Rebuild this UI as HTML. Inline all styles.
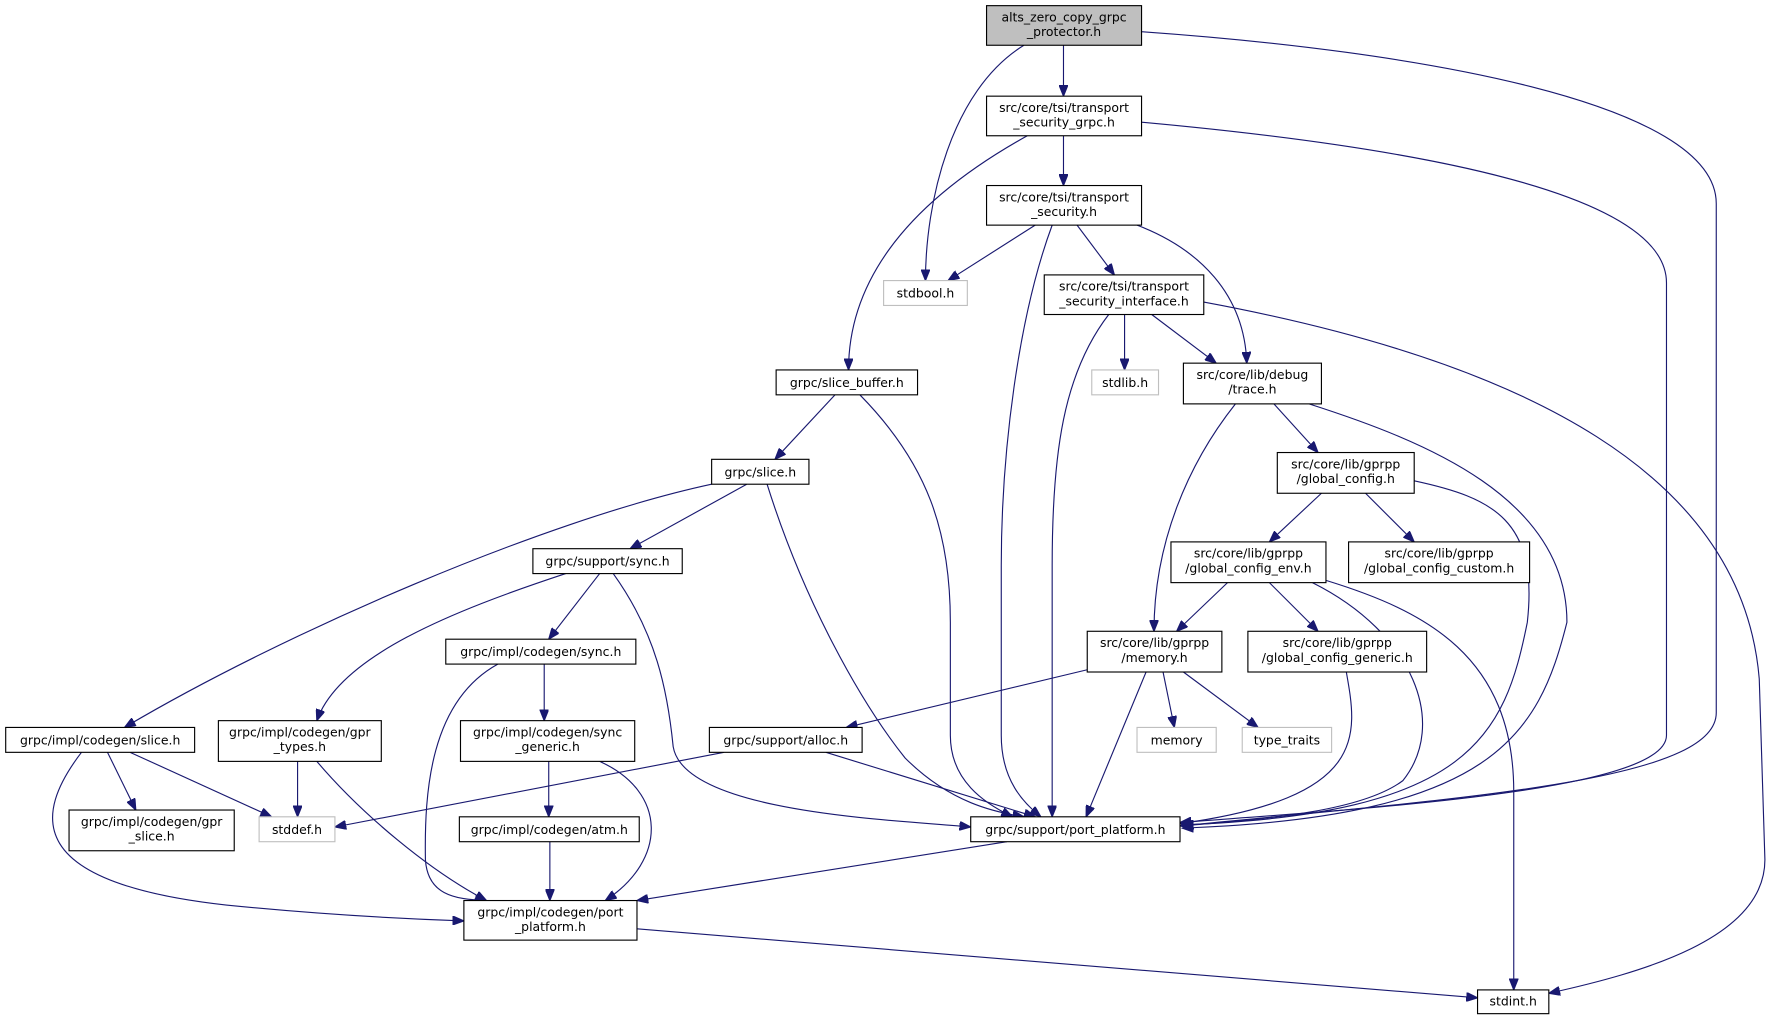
<!DOCTYPE html>
<html><head><meta charset="utf-8"><style>
html,body{margin:0;padding:0;background:#fff;}
svg{display:block;}
text{font-family:"DejaVu Sans","Liberation Sans",sans-serif;font-size:11px;fill:#000;text-anchor:middle;}
.n{fill:#fff;stroke:#000;stroke-width:1;}
.g{fill:#fff;stroke:#bfbfbf;stroke-width:1;}
.e{fill:none;stroke:#191970;stroke-width:1;marker-end:url(#a);}
</style></head><body>
<svg width="1774" height="1020" viewBox="0 0 1568 901.6" xmlns="http://www.w3.org/2000/svg">
<defs><marker id="a" markerUnits="userSpaceOnUse" markerWidth="11" markerHeight="8" refX="10" refY="4" orient="auto"><path d="M0,0 L10,4 L0,8 z" fill="#191970" stroke="#191970"/></marker></defs>
<rect width="1568" height="902" fill="#fff"/>
<g>
<path class="e" d="M940,40 L940,85"/>
<path class="e" d="M905,40 C840,80 818,180 818,248"/>
<path class="e" d="M1009,28 C1250,45 1517,90 1517,180 L1517,630 C1517,690 1300,705 1043,730"/>
<path class="e" d="M940,120 L940,164"/>
<path class="e" d="M908,120 C800,180 750,250 750,327"/>
<path class="e" d="M1009,108 C1250,130 1473,170 1473,250 L1473,650 C1473,700 1200,715 1043,727"/>
<path class="e" d="M915,199 L838,248"/>
<path class="e" d="M952,199 L985,243"/>
<path class="e" d="M1005,199 C1060,220 1100,260 1102,321"/>
<path class="e" d="M930,199 C900,280 885,400 885,500 L885,650 C885,690 905,710 920,722"/>
<path class="e" d="M994,278 L994,327"/>
<path class="e" d="M1018,278 L1075,321"/>
<path class="e" d="M980,278 C940,330 930,400 930,500 L930,722"/>
<path class="e" d="M1064,267 C1350,320 1540,420 1555,600 L1560,760 C1560,830 1450,860 1369,878"/>
<path class="e" d="M738,349 L685,406"/>
<path class="e" d="M760,349 C820,410 840,470 840,550 L840,650 C840,690 870,710 895,722"/>
<path class="e" d="M1126,357 L1165,400"/>
<path class="e" d="M1092,357 C1050,410 1020,480 1020,558"/>
<path class="e" d="M1157,357 C1260,390 1385,440 1385,550 C1360,650 1320,722 1045,732"/>
<path class="e" d="M629,428 C480,460 250,560 110,643"/>
<path class="e" d="M660,428 L557,485"/>
<path class="e" d="M678,428 C710,530 760,620 800,670 C840,710 880,718 905,722"/>
<path class="e" d="M1168,436 L1122,479"/>
<path class="e" d="M1207,436 L1250,479"/>
<path class="e" d="M1250,425 C1320,440 1360,460 1350,550 C1330,650 1300,720 1045,729"/>
<path class="e" d="M500,507 C400,540 300,580 280,637"/>
<path class="e" d="M530,507 L485,565"/>
<path class="e" d="M542,507 C580,560 590,610 595,660 C605,720 800,725 858,731"/>
<path class="e" d="M1085,515 L1040,558"/>
<path class="e" d="M1122,515 L1165,558"/>
<path class="e" d="M1160,515 C1250,560 1280,640 1240,690 C1200,720 1100,725 1045,730"/>
<path class="e" d="M1172,513 C1260,540 1338,580 1338,700 L1338,875"/>
<path class="e" d="M481,587 L481,637"/>
<path class="e" d="M440,587 C380,620 375,700 376,760 C378,790 400,795 430,796"/>
<path class="e" d="M961,592 L748,643"/>
<path class="e" d="M1013,594 L960,722"/>
<path class="e" d="M1028,594 L1038,643"/>
<path class="e" d="M1046,594 L1112,643"/>
<path class="e" d="M1190,594 C1200,650 1210,705 1043,728"/>
<path class="e" d="M95,665 L120,716"/>
<path class="e" d="M115,665 L240,722"/>
<path class="e" d="M72,665 C30,720 20,780 200,800 C300,810 380,813 410,814"/>
<path class="e" d="M263,673 L263,722"/>
<path class="e" d="M280,673 C320,720 380,770 430,796"/>
<path class="e" d="M485,673 L485,722"/>
<path class="e" d="M530,673 C590,700 590,760 535,796"/>
<path class="e" d="M640,665 L296,731"/>
<path class="e" d="M730,665 L915,722"/>
<path class="e" d="M486,744 L486,796"/>
<path class="e" d="M890,744 L563,796"/>
<path class="e" d="M563,821 L1306,882"/>
</g>
<g>
<rect x="872" y="5" width="137" height="35" fill="#bfbfbf" stroke="#000"/><text x="940.5" y="19">alts_zero_copy_grpc</text><text x="940.5" y="32">_protector.h</text>
<rect class="n" x="872" y="85" width="137" height="35"/><text x="940.5" y="99">src/core/tsi/transport</text><text x="940.5" y="112">_security_grpc.h</text>
<rect class="n" x="872" y="164" width="137" height="35"/><text x="940.5" y="178">src/core/tsi/transport</text><text x="940.5" y="191">_security.h</text>
<rect class="g" x="781" y="248" width="74" height="22"/><text x="818" y="263">stdbool.h</text>
<rect class="n" x="923" y="243" width="141" height="35"/><text x="993.5" y="257">src/core/tsi/transport</text><text x="993.5" y="270">_security_interface.h</text>
<rect class="g" x="965" y="327" width="59" height="22"/><text x="994.5" y="342">stdlib.h</text>
<rect class="n" x="1046" y="321" width="122" height="36"/><text x="1107" y="335">src/core/lib/debug</text><text x="1107" y="348">/trace.h</text>
<rect class="n" x="686" y="327" width="125" height="22"/><text x="748.5" y="342">grpc/slice_buffer.h</text>
<rect class="n" x="629" y="406" width="86" height="22"/><text x="672" y="421">grpc/slice.h</text>
<rect class="n" x="1129" y="400" width="121" height="36"/><text x="1189.5" y="414">src/core/lib/gprpp</text><text x="1189.5" y="427">/global_config.h</text>
<rect class="n" x="471" y="485" width="132" height="22"/><text x="537" y="500">grpc/support/sync.h</text>
<rect class="n" x="1035" y="479" width="137" height="36"/><text x="1103.5" y="493">src/core/lib/gprpp</text><text x="1103.5" y="506">/global_config_env.h</text>
<rect class="n" x="1192" y="479" width="160" height="36"/><text x="1272" y="493">src/core/lib/gprpp</text><text x="1272" y="506">/global_config_custom.h</text>
<rect class="n" x="394" y="565" width="168" height="22"/><text x="478" y="580">grpc/impl/codegen/sync.h</text>
<rect class="n" x="961" y="558" width="119" height="36"/><text x="1020.5" y="572">src/core/lib/gprpp</text><text x="1020.5" y="585">/memory.h</text>
<rect class="n" x="1103" y="558" width="158" height="36"/><text x="1182" y="572">src/core/lib/gprpp</text><text x="1182" y="585">/global_config_generic.h</text>
<rect class="n" x="5" y="643" width="167" height="22"/><text x="88.5" y="658">grpc/impl/codegen/slice.h</text>
<rect class="n" x="193" y="637" width="144" height="36"/><text x="265" y="651">grpc/impl/codegen/gpr</text><text x="265" y="664">_types.h</text>
<rect class="n" x="407" y="637" width="154" height="36"/><text x="484" y="651">grpc/impl/codegen/sync</text><text x="484" y="664">_generic.h</text>
<rect class="n" x="627" y="643" width="135" height="22"/><text x="694.5" y="658">grpc/support/alloc.h</text>
<rect class="g" x="1005" y="643" width="70" height="22"/><text x="1040" y="658">memory</text>
<rect class="g" x="1098" y="643" width="79" height="22"/><text x="1137.5" y="658">type_traits</text>
<rect class="n" x="61" y="716" width="146" height="36"/><text x="134" y="730">grpc/impl/codegen/gpr</text><text x="134" y="743">_slice.h</text>
<rect class="g" x="229" y="722" width="67" height="22"/><text x="262.5" y="737">stddef.h</text>
<rect class="n" x="406" y="722" width="159" height="22"/><text x="485.5" y="737">grpc/impl/codegen/atm.h</text>
<rect class="n" x="858" y="722" width="185" height="22"/><text x="950.5" y="737">grpc/support/port_platform.h</text>
<rect class="n" x="410" y="796" width="153" height="35"/><text x="486.5" y="810">grpc/impl/codegen/port</text><text x="486.5" y="823">_platform.h</text>
<rect class="n" x="1306" y="875" width="63" height="21"/><text x="1337.5" y="889">stdint.h</text>
</g>
</svg>
</body></html>
